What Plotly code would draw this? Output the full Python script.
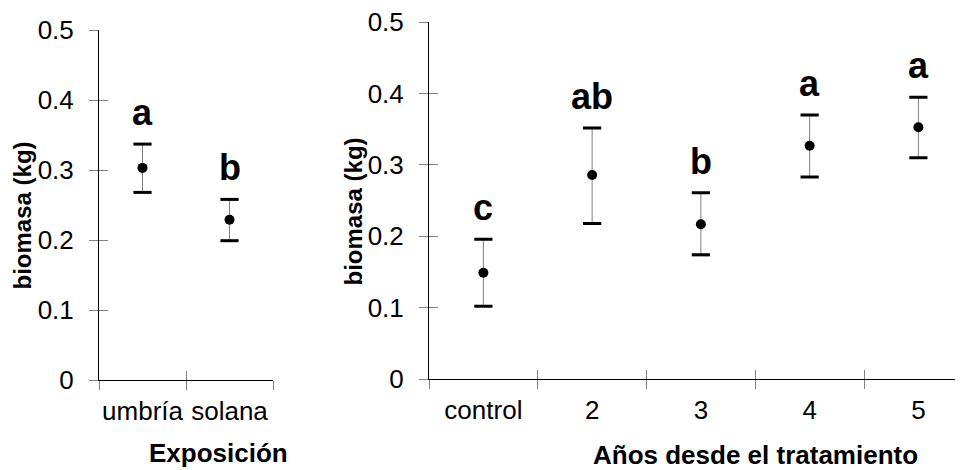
import plotly.graph_objects as go

# ---------------- data ----------------
exp_cats = ["umbría", "solana"]
exp_mean = [0.303, 0.229]
exp_err_up = [0.034, 0.029]
exp_err_down = [0.035, 0.030]
exp_letters = ["a", "b"]

yr_cats = ["control", "2", "3", "4", "5"]
yr_mean = [0.149, 0.286, 0.217, 0.327, 0.353]
yr_err_up = [0.047, 0.066, 0.044, 0.043, 0.042]
yr_err_down = [0.047, 0.068, 0.043, 0.044, 0.043]
yr_letters = ["c", "ab", "b", "a", "a"]

y_tickvals = [0, 0.1, 0.2, 0.3, 0.4, 0.5]
y_ticktext = ["0", "0.1", "0.2", "0.3", "0.4", "0.5"]

y_title = "biomasa (kg)"
exp_title = "Exposición"
yr_title = "Años desde el tratamiento"

# ---------------- style ----------------
FONT = "Liberation Sans, Arial, sans-serif"
TICKC = "#808080"
OFF = 8                      # page body margin of the html page
W, H = 963 - OFF, 470 - OFF  # figure size so that it ends at the window edge
Y_RANGE = [0, 0.50001]


def fx(px):  # screen x pixel -> paper fraction
    return (px - OFF) / W


def fy(py):  # screen y pixel -> paper fraction
    return (H - (py - OFF)) / H


fig = go.Figure()


def add_panel(cats, mean, up, down, xa, ya):
    fig.add_trace(go.Scatter(
        x=cats, y=mean, mode="markers", xaxis=xa, yaxis=ya,
        marker=dict(size=10, color="black"),
        error_y=dict(type="data", symmetric=False, array=up, arrayminus=down,
                     color=TICKC, thickness=1, width=0),
        showlegend=False, hoverinfo="skip"))
    caps_y = [m + u for m, u in zip(mean, up)] + [m - d for m, d in zip(mean, down)]
    fig.add_trace(go.Scatter(
        x=list(cats) * 2, y=caps_y, mode="markers", xaxis=xa, yaxis=ya,
        marker=dict(symbol="line-ew", size=13, color="black",
                    line=dict(width=3, color="black")),
        showlegend=False, hoverinfo="skip"))


add_panel(exp_cats, exp_mean, exp_err_up, exp_err_down, "x", "y")
add_panel(yr_cats, yr_mean, yr_err_up, yr_err_down, "x2", "y2")

# empty traces on overlay axes (used only to draw inward half of cross ticks)
fig.add_trace(go.Scatter(x=[None], y=[None], xaxis="x3", yaxis="y3", showlegend=False))
fig.add_trace(go.Scatter(x=[None], y=[None], xaxis="x4", yaxis="y4", showlegend=False))

left_dom_x = [fx(99), fx(273)]
left_dom_y = [fy(380), fy(30)]
right_dom_x = [fx(429), 1.0]
right_dom_y = [fy(379), fy(22.3)]
right_range = [-0.5, -0.5 + (963 - 429) / 108.75]

tickfont = dict(family=FONT, size=26, color="black")

common_y = dict(range=Y_RANGE, tickvals=y_tickvals, ticktext=y_ticktext,
                ticks="outside", ticklen=9, tickcolor=TICKC, tickwidth=1,
                showline=True, linecolor="black", linewidth=1,
                showgrid=False, zeroline=False, tickfont=tickfont,
                ticklabelstandoff=10, ticklabeloverflow="allow", automargin=False)
common_x = dict(type="category", tickson="boundaries", ticks="outside", ticklen=9,
                tickcolor=TICKC, tickwidth=1, showline=True, linecolor="black",
                linewidth=1, showgrid=False, zeroline=False, tickfont=tickfont,
                tickangle=0, ticklabelstandoff=8, ticklabeloverflow="allow",
                automargin=False)
inner_y = dict(range=Y_RANGE, tickvals=y_tickvals, ticks="inside", ticklen=9,
               tickcolor=TICKC, tickwidth=1, showline=False, showgrid=False,
               zeroline=False, showticklabels=False, automargin=False)
inner_x = dict(type="linear", ticks="inside", ticklen=9, tickcolor=TICKC, tickwidth=1,
               showline=False, showgrid=False, zeroline=False,
               showticklabels=False, automargin=False)

fig.update_layout(
    template="none",
    width=W, height=H, margin=dict(l=0, r=0, t=0, b=0, autoexpand=False),
    paper_bgcolor="white", plot_bgcolor="rgba(0,0,0,0)",
    showlegend=False,
    xaxis=dict(domain=left_dom_x, anchor="y", range=[-0.5, 1.5],
               categoryorder="array", categoryarray=exp_cats, **common_x),
    yaxis=dict(domain=left_dom_y, anchor="x", **common_y),
    xaxis2=dict(domain=right_dom_x, anchor="y2", range=right_range,
                categoryorder="array", categoryarray=yr_cats, **common_x),
    yaxis2=dict(domain=right_dom_y, anchor="x2", **common_y),
    xaxis3=dict(overlaying="x", anchor="y3", range=[-0.5, 1.5],
                tickvals=[-0.5, 0.5, 1.5], **inner_x),
    yaxis3=dict(overlaying="y", anchor="x3", **inner_y),
    xaxis4=dict(overlaying="x2", anchor="y4", range=right_range,
                tickvals=[-0.5, 0.5, 1.5, 2.5, 3.5, 4.5], **inner_x),
    yaxis4=dict(overlaying="y2", anchor="x4", **inner_y),
)

annotations = []
letter_font = dict(family=FONT, size=36, color="black", weight="bold")
for i, (m, u, t) in enumerate(zip(exp_mean, exp_err_up, exp_letters)):
    annotations.append(dict(x=i, y=m + u, xref="x", yref="y", text=t, showarrow=False,
                            yanchor="bottom", yshift=9, font=letter_font))
for i, (m, u, t) in enumerate(zip(yr_mean, yr_err_up, yr_letters)):
    annotations.append(dict(x=i, y=m + u, xref="x2", yref="y2", text=t, showarrow=False,
                            yanchor="bottom", yshift=9, font=letter_font))

title_font = dict(family=FONT, size=26, color="black", weight="bold")
ytitle_font = dict(family=FONT, size=24, color="black", weight="bold")
annotations += [
    dict(x=fx(22.5), y=fy(216), xref="paper", yref="paper", text=y_title,
         textangle=-90, showarrow=False, xanchor="center", yanchor="middle",
         font=ytitle_font),
    dict(x=fx(353), y=fy(211.5), xref="paper", yref="paper", text=y_title,
         textangle=-90, showarrow=False, xanchor="center", yanchor="middle",
         font=ytitle_font),
    dict(x=fx(218.5), y=0, xref="paper", yref="paper", text=exp_title,
         showarrow=False, xanchor="center", yanchor="bottom", yshift=0,
         font=title_font),
    dict(x=fx(755), y=0, xref="paper", yref="paper", text=yr_title,
         showarrow=False, xanchor="center", yanchor="bottom", yshift=-2,
         font=title_font),
]
fig.update_layout(annotations=annotations)

fig.write_html("out.html")
